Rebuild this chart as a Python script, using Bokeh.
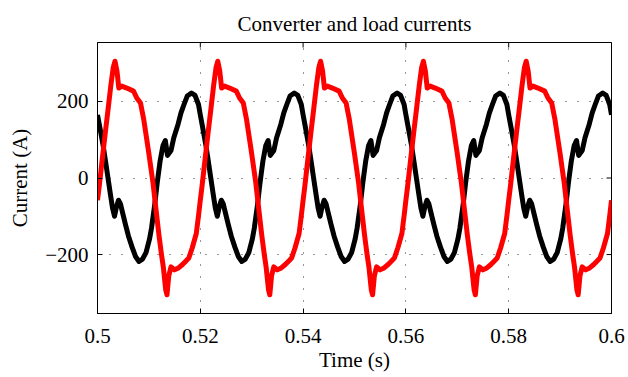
import math
from bokeh.plotting import figure
from bokeh.models import FixedTicker, Range1d
from bokeh.embed import file_html
from bokeh.resources import INLINE

# ---- data -----------------------------------------------------------------
# The two currents are periodic (20 ms). One period was read off the picture
# (phase in ms from the start of a cycle, current in A) and is drawn once per cycle.
cycle_starts_s = [0.50, 0.52, 0.54, 0.56, 0.58]
t_end_s = 0.60

black_phase_ms = [0.000, 0.486, 1.070, 1.556, 2.043, 2.529, 2.918, 3.307, 3.696,
                  4.086, 4.475, 4.864, 5.447, 6.031, 6.712, 7.393, 8.074, 8.755,
                  9.436, 10.117, 10.506, 11.128, 11.615, 12.179, 12.743, 13.191,
                  13.619, 14.300, 14.844, 15.661, 16.245, 16.829, 17.451, 18.288,
                  18.969, 19.650]
black_current = [165, 130, 87, 44, 0, -44, -78, -100, -75,
                 -58, -68, -90, -122, -152, -180, -205, -218, -212,
                 -195, -160, -131, -70, -13, 44, 85, 98,
                 59, 72, 105, 140, 170, 192, 214, 222,
                 216, 192]

red_phase_ms = [0.000, 0.350, 0.934, 1.517, 2.062, 2.607, 3.054, 3.405, 3.794,
                4.144, 4.728, 5.700, 7.004, 7.646, 8.366, 9.008, 9.981, 10.798,
                11.381, 11.965, 12.451, 12.801, 13.268, 13.521, 13.872, 14.300,
                14.981, 15.759, 16.537, 17.121, 17.763, 18.424, 19.222, 19.708]
red_current = [-58, -20, 50, 118, 180, 243, 288, 305, 279,
               235, 240, 235, 227, 209, 196, 152, 65, -13,
               -82, -150, -200, -232, -292, -305, -255, -232,
               -240, -235, -226, -218, -209, -183, -145, -92]

x_ticks = [0.50, 0.52, 0.54, 0.56, 0.58, 0.60]
x_tick_labels = ["0.5", "0.52", "0.54", "0.56", "0.58", "0.6"]
y_ticks = [-200, 0, 200]
y_tick_labels = ["\u2212200", "0", "200"]

title_text = "Converter and load currents"
x_label = "Time (s)"
y_label = "Current (A)"


def build_series(phase_ms, values):
    ts, vs = [], []
    for start in cycle_starts_s:
        for ph, v in zip(phase_ms, values):
            ts.append(start + ph / 1000.0)
            vs.append(v)
    ts.append(t_end_s)
    vs.append(values[0])
    return ts, vs


tb, vb = build_series(black_phase_ms, black_current)
tr, vr = build_series(red_phase_ms, red_current)

FONT = "Liberation Serif"
FS = "21px"

x_range = Range1d(0.5, 0.6)
y_range = Range1d(-354, 354)

p = figure(width=628, height=377, output_backend="svg", toolbar_location=None,
           x_range=x_range, y_range=y_range,
           min_border_left=97, min_border_right=17, min_border_top=42,
           min_border_bottom=64, background_fill_color="white",
           border_fill_color="white")

# dotted grid
xt = FixedTicker(ticks=x_ticks)
yt = FixedTicker(ticks=y_ticks)
for g, tk in ((p.xgrid[0], xt), (p.ygrid[0], yt)):
    g.ticker = tk
    g.grid_line_color = "#333333"
    g.grid_line_width = 1
    g.grid_line_dash = "1 11"

p.line(tb, vb, line_color="#000000", line_width=5, line_join="round")
p.line(tr, vr, line_color="#ff0000", line_width=5, line_join="round")

# inward ticks on the top and right edges of the box (half of each dash is clipped)
p.scatter(x_ticks, [y_range.end] * len(x_ticks), marker="dash", size=10,
          angle=math.pi / 2, line_color="black", line_width=1)
p.scatter([x_range.end] * len(y_ticks), y_ticks, marker="dash", size=10,
          line_color="black", line_width=1)

p.outline_line_color = "black"
p.outline_line_width = 1

p.title.text = title_text
p.title.align = "center"
p.title.vertical_align = "top"
p.title.text_font = FONT
p.title.text_font_size = FS
p.title.text_font_style = "normal"
p.title.text_color = "black"
p.title.standoff = 10


def style_axis(ax, ticker, overrides, label):
    ax.ticker = ticker
    ax.major_label_overrides = overrides
    ax.major_tick_in = 5
    ax.major_tick_out = 0
    ax.minor_tick_line_color = None
    ax.axis_line_color = "black"
    ax.major_tick_line_color = "black"
    ax.major_label_text_font = FONT
    ax.major_label_text_font_size = FS
    ax.major_label_text_color = "black"
    ax.axis_label = label
    ax.axis_label_text_font = FONT
    ax.axis_label_text_font_size = FS
    ax.axis_label_text_font_style = "normal"
    ax.axis_label_text_color = "black"


style_axis(p.xaxis[0], xt, dict(zip(x_ticks, x_tick_labels)), x_label)
style_axis(p.yaxis[0], yt, dict(zip(y_ticks, y_tick_labels)), y_label)
p.xaxis[0].major_label_standoff = 15
p.xaxis[0].axis_label_standoff = 2
p.yaxis[0].major_label_standoff = 9
p.yaxis[0].axis_label_standoff = 10

open("out.html", "w").write(file_html(p, INLINE))
